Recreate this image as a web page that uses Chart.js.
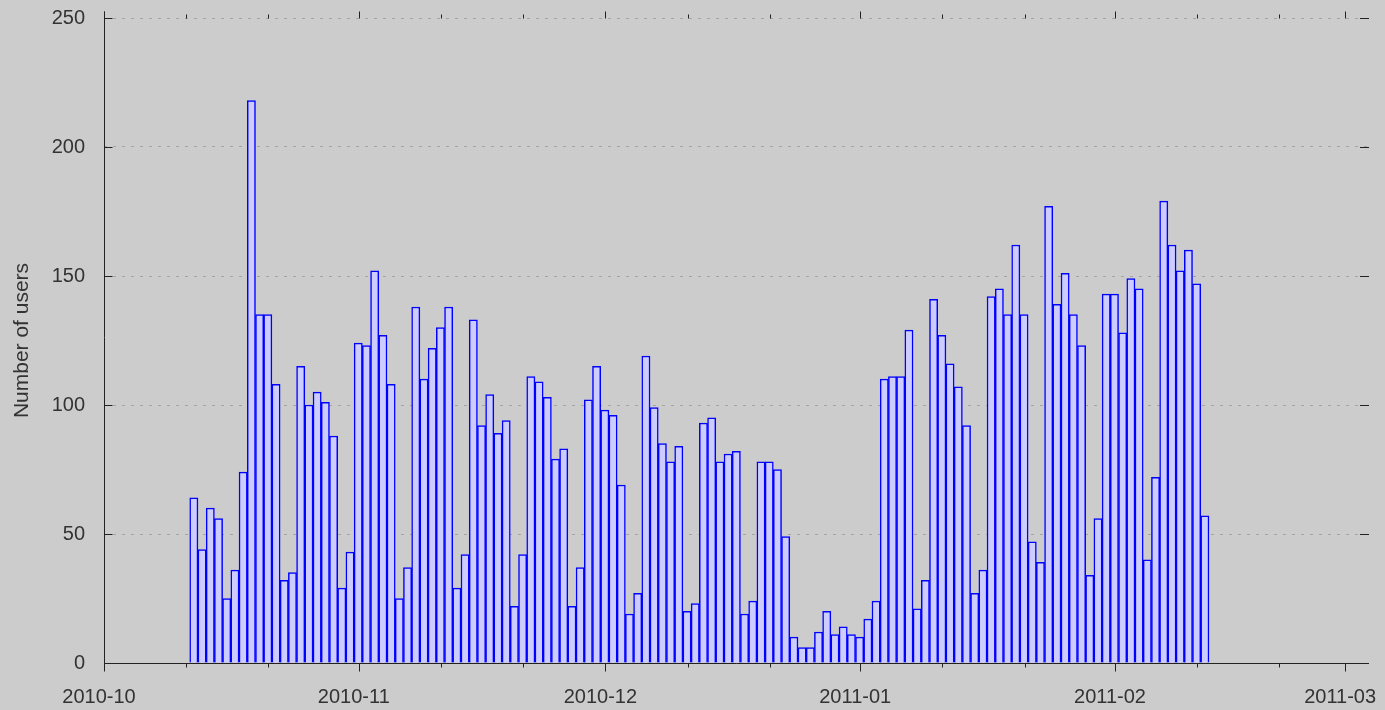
<!DOCTYPE html>
<html>
<head>
<meta charset="utf-8">
<script src="https://cdn.jsdelivr.net/npm/chart.js@4.4.1/dist/chart.umd.min.js"></script>
<style>
  html, body { margin: 0; padding: 0; background: #cccccc; }
  #wrap { width: 1385px; height: 710px; }
  canvas { display: block; }
</style>
</head>
<body>
<div id="wrap"><canvas id="c" width="1385" height="710"></canvas></div>
<script>
// ---- data ----
const axisStart = '2010-10-01';
const firstDay = '2010-10-11';
const monthLabels = ['2010-10', '2010-11', '2010-12', '2011-01', '2011-02', '2011-03'];
const yTicks = [0, 50, 100, 150, 200, 250];
const users = [
  64, 44, 60, 56, 25, 36, 74, 218, 135, 135, 108, 32, 35, 115, 100, 105, 101, 88, 29, 43, 124, 123, 152, 127, 108,
  25, 37, 138, 110, 122, 130, 138, 29, 42, 133, 92, 104, 89, 94, 22, 42, 111, 109, 103, 79, 83, 22, 37, 102, 115,
  98, 96, 69, 19, 27, 119, 99, 85, 78, 84, 20, 23, 93, 95, 78, 81, 82, 19, 24, 78, 78, 75, 49, 10, 6,
  6, 12, 20, 11, 14, 11, 10, 17, 24, 110, 111, 111, 129, 21, 32, 141, 127, 116, 107, 92, 27, 36, 142, 145, 135,
  162, 135, 47, 39, 177, 139, 151, 135, 123, 34, 56, 143, 143, 128, 149, 145, 40, 72, 179, 162, 152, 160, 147, 57
];

// ---- helpers ----
const DAY = 86400000;
function toUTC(s) {
  const p = s.split('-').map(Number);
  return Date.UTC(p[0], p[1] - 1, p[2] || 1);
}
function dayNum(s) { return Math.round((toUTC(s) - toUTC(axisStart)) / DAY); }
const firstIdx = dayNum(firstDay);
const BAR_SHIFT = 0.93;           // bar centre offset within the day (style)
const X_MAX = 153.9;              // axis extends a little past 2011-03
const monthDays = monthLabels.map(dayNum);
const minorDays = [];
monthLabels.forEach(m => [1, 11, 21].forEach(d => {
  const v = dayNum(m + '-' + String(d).padStart(2, '0'));
  if (v <= X_MAX) minorDays.push(v);
}));

const barData = users.map((v, i) => ({ x: firstIdx + i + BAR_SHIFT, y: v }));

const FONT = "'Liberation Sans', Arial, sans-serif";
const TXT = '#333333';

const noPad = s => { s.paddingTop = 0; s.paddingBottom = 0; s.paddingLeft = 0; s.paddingRight = 0; };

const axesPlugin = {
  id: 'axesPlugin',
  afterDraw(chart) {
    const { ctx, chartArea: a, scales: { x, y } } = chart;
    ctx.save();
    ctx.strokeStyle = '#222222';
    ctx.lineWidth = 1;
    const line = (x1, y1, x2, y2) => { ctx.beginPath(); ctx.moveTo(x1, y1); ctx.lineTo(x2, y2); ctx.stroke(); };
    const L = Math.round(a.left) + 0.5, B = Math.round(a.bottom) + 0.5, T = Math.round(a.top) + 0.5, R = Math.round(a.right);
    line(L, T - 7, L, B);
    line(L, B, R, B);
    minorDays.forEach(d => {
      const px = Math.round(x.getPixelForValue(d)) + 0.5;
      const major = monthDays.includes(d);
      line(px, B, px, B + (major ? 8 : 4));
      line(px, T, px, T - (major ? 7 : 4));
    });
    yTicks.forEach(v => {
      const py = Math.round(y.getPixelForValue(v)) + 0.5;
      line(L, py, L + 8, py);
      line(R - 9, py, R, py);
    });
    ctx.restore();
  }
};

new Chart(document.getElementById('c'), {
  type: 'bar',
  data: {
    datasets: [{
      data: barData,
      backgroundColor: '#ccccff',
      borderColor: '#0000ff',
      borderWidth: 1.5,
      borderSkipped: 'start',
      barPercentage: 1,
      categoryPercentage: 1,
      grouped: false
    }]
  },
  options: {
    responsive: false,
    animation: false,
    devicePixelRatio: 1,
    layout: { padding: { top: 18, right: 16, left: 0, bottom: 0 } },
    plugins: { legend: { display: false }, tooltip: { enabled: false } },
    scales: {
      x: {
        type: 'linear',
        min: 0,
        max: X_MAX,
        offset: false,
        bounds: 'data',
        afterBuildTicks: s => { s.ticks = monthDays.map(v => ({ value: v })); },
        afterFit: s => { s.height = 47; noPad(s); },
        grid: { display: false, drawTicks: false },
        border: { display: false },
        ticks: {
          autoSkip: false,
          maxRotation: 0,
          padding: 22,
          labelOffset: -5,
          color: TXT,
          font: { family: FONT, size: 20 },
          callback: (v, i) => monthLabels[i]
        }
      },
      y: {
        min: 0,
        max: 250,
        z: 1,
        afterBuildTicks: s => { s.ticks = yTicks.map(v => ({ value: v })); },
        afterFit: s => { s.width = 104; noPad(s); },
        grid: {
          drawTicks: false,
          color: c => (c.tick && c.tick.value === 0) ? 'rgba(0,0,0,0)' : '#a4a4a4',
          lineWidth: 1
        },
        border: { display: false, dash: [3, 6] },
        ticks: {
          padding: 19,
          color: TXT,
          font: { family: FONT, size: 20 },
          callback: v => String(v)
        },
        title: {
          display: true,
          text: 'Number of users',
          color: TXT,
          font: { family: FONT, size: 21, weight: 'normal' },
          padding: { top: 10, bottom: 0 }
        }
      }
    }
  },
  plugins: [axesPlugin]
});
</script>
</body>
</html>
